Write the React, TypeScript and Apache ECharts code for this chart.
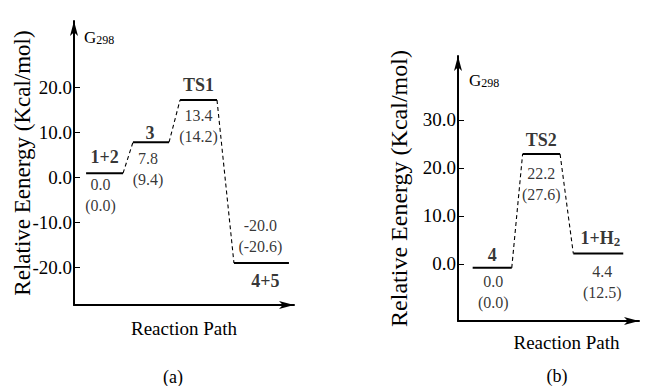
import React, { useEffect, useRef } from 'react';
import * as echarts from 'echarts';

const FONT = 'Liberation Serif, serif';
const INK = '#000000';

// ---------- Panel (a) ----------
const speciesA = ['1+2', '3', 'TS1', '4+5'];
const energyA = ['0.0', '7.8', '13.4', '-20.0'];
const energyParenA = ['(0.0)', '(9.4)', '(14.2)', '(-20.6)'];
const drawnLevelA = [0.9, 7.8, 17.2, -19.1];
const pathStartA = [5.5, 26.8, 48.2, 72.7];
const pathEndA = [22.3, 43.2, 65.0, 97.7];
const yTicksA = [-20, -10, 0, 10, 20];

// ---------- Panel (b) ----------
const speciesB = ['4', 'TS2', '1+H_2'];
const energyB = ['0.0', '22.2', '4.4'];
const energyParenB = ['(0.0)', '(27.6)', '(12.5)'];
const drawnLevelB = [-0.8, 22.9, 2.2];
const pathStartB = [8.1, 35.7, 63.7];
const pathEndB = [29.7, 56.4, 91.3];
const yTicksB = [0, 10, 20, 30];

const yAxisTitle = 'Relative Eenergy (Kcal/mol)';
const xAxisTitle = 'Reaction Path';

// label layout tweaks (pixel offsets from level mid-points)
const nameOffsetA = [[0, -16], [-1, -9], [0, -15], [4, 18]];
const valueOffsetA = [[-4, 22], [-3, 27], [0, 26], [-1, -27]];
const nameOffsetB = [[0, -13], [0, -14], [2, -15]];
const valueOffsetB = [[1, 24], [0, 30], [4, 29]];

const richStyles = {
  b: { fontFamily: FONT, fontWeight: 'bold', fontSize: 18, color: INK, lineHeight: 20 },
  bs: { fontFamily: FONT, fontWeight: 'bold', fontSize: 13, color: INK, lineHeight: 10, verticalAlign: 'bottom' },
  v: { fontFamily: FONT, fontSize: 16, color: INK, lineHeight: 21 },
};

function richName(s: string) {
  const parts = s.split('_');
  let t = `{b|${parts[0]}}`;
  if (parts[1]) t += `{bs|${parts[1]}}`;
  return t;
}

function panelSeries(
  g: number,
  starts: number[],
  ends: number[],
  levels: number[],
  species: string[],
  e1: string[],
  e2: string[],
  nameOff: number[][],
  valOff: number[][]
) {
  const out: any[] = [];
  levels.forEach((v, i) => {
    out.push({
      type: 'line',
      xAxisIndex: g,
      yAxisIndex: g,
      data: [[starts[i], v], [ends[i], v]],
      symbol: 'none',
      silent: true,
      lineStyle: { color: INK, width: 2 },
    });
    if (i < levels.length - 1) {
      out.push({
        type: 'line',
        xAxisIndex: g,
        yAxisIndex: g,
        data: [[ends[i], v], [starts[i + 1], levels[i + 1]]],
        symbol: 'none',
        silent: true,
        lineStyle: { color: INK, width: 1.1, type: [4, 3] },
      });
    }
  });
  const labelSeries = (offs: number[][], fmt: (i: number) => string) => ({
    type: 'scatter',
    xAxisIndex: g,
    yAxisIndex: g,
    symbolSize: 1,
    itemStyle: { color: 'rgba(0,0,0,0)' },
    silent: true,
    data: levels.map((v, i) => ({
      value: [(starts[i] + ends[i]) / 2, v],
      label: {
        show: true,
        position: 'inside',
        offset: offs[i],
        fontFamily: FONT,
        formatter: fmt(i),
        rich: richStyles,
      },
    })),
  });
  out.push(labelSeries(nameOff, (i) => richName(species[i])));
  out.push(labelSeries(valOff, (i) => `{v|${e1[i]}}\n{v|${e2[i]}}`));
  return out;
}

function makeY(g: number, min: number, max: number, ticks: number[], nameGap: number, nameSize: number) {
  return {
    gridIndex: g,
    type: 'value',
    min,
    max,
    name: yAxisTitle,
    nameLocation: 'middle',
    nameGap,
    nameRotate: 90,
    nameMoveOverlap: false,
    nameTextStyle: { fontFamily: FONT, fontSize: nameSize, color: INK },
    axisLine: {
      show: true,
      symbol: ['none', 'arrow'],
      symbolSize: [6, 15],
      lineStyle: { color: INK, width: 2 },
    },
    axisTick: { show: true, inside: true, length: 6, customValues: ticks, lineStyle: { color: INK, width: 1 } },
    axisLabel: {
      show: true,
      customValues: ticks,
      margin: 2,
      formatter: (v: number) => v.toFixed(1),
      fontFamily: FONT,
      fontSize: 19,
      color: INK,
    },
    splitLine: { show: false },
  };
}

function makeX(g: number, nameGap: number, padLeft: number) {
  return {
    gridIndex: g,
    type: 'value',
    min: 0,
    max: 100,
    name: xAxisTitle,
    nameLocation: 'middle',
    nameGap,
    nameMoveOverlap: false,
    nameTextStyle: { fontFamily: FONT, fontSize: 19, color: INK, padding: [0, 0, 0, padLeft] },
    axisLine: {
      show: true,
      onZero: false,
      symbol: ['none', 'arrow'],
      symbolSize: [6, 15],
      lineStyle: { color: INK, width: 2 },
    },
    axisTick: { show: false },
    axisLabel: { show: false },
    splitLine: { show: false },
  };
}

const gRich = {
  g: { fontFamily: FONT, fontSize: 17, fill: INK, lineHeight: 18 },
  s: { fontFamily: FONT, fontSize: 12, fill: INK, lineHeight: 8, verticalAlign: 'bottom' },
};

export default function App() {
  const ref = useRef<HTMLDivElement>(null);
  useEffect(() => {
    if (!ref.current) return;
    const chart = echarts.init(ref.current, undefined, { renderer: 'svg' });
    chart.setOption({
      animation: false,
      backgroundColor: '#ffffff',
      textStyle: { fontFamily: FONT },
      grid: [
        { left: 74, top: 21, width: 220, height: 284, containLabel: false, outerBoundsMode: 'none' },
        { left: 458, top: 56, width: 181, height: 265, containLabel: false, outerBoundsMode: 'none' },
      ],
      xAxis: [makeX(0, 14, 0), makeX(1, 12, 36)],
      yAxis: [
        makeY(0, -28.46, 34.8, yTicksA, 40, 23),
        makeY(1, -11.875, 43.33, yTicksB, 47, 24),
      ],
      series: [
        ...panelSeries(0, pathStartA, pathEndA, drawnLevelA, speciesA, energyA, energyParenA, nameOffsetA, valueOffsetA),
        ...panelSeries(1, pathStartB, pathEndB, drawnLevelB, speciesB, energyB, energyParenB, nameOffsetB, valueOffsetB),
      ],
      graphic: [
        { type: 'text', x: 84, y: 37, style: { text: '{g|G}{s|298}', rich: gRich, fontFamily: FONT, verticalAlign: 'middle', align: 'left' } },
        { type: 'text', x: 469, y: 80, style: { text: '{g|G}{s|298}', rich: gRich, fontFamily: FONT, verticalAlign: 'middle', align: 'left' } },
        { type: 'text', x: 173, y: 377, style: { text: '(a)', fontFamily: FONT, fontSize: 18, fill: INK, align: 'center', verticalAlign: 'middle' } },
        { type: 'text', x: 557, y: 376, style: { text: '(b)', fontFamily: FONT, fontSize: 18, fill: INK, align: 'center', verticalAlign: 'middle' } },
      ],
    });
    return () => chart.dispose();
  }, []);
  return <div ref={ref} style={{ position: 'fixed', left: 0, top: 0, width: 647, height: 386 }} />;
}
